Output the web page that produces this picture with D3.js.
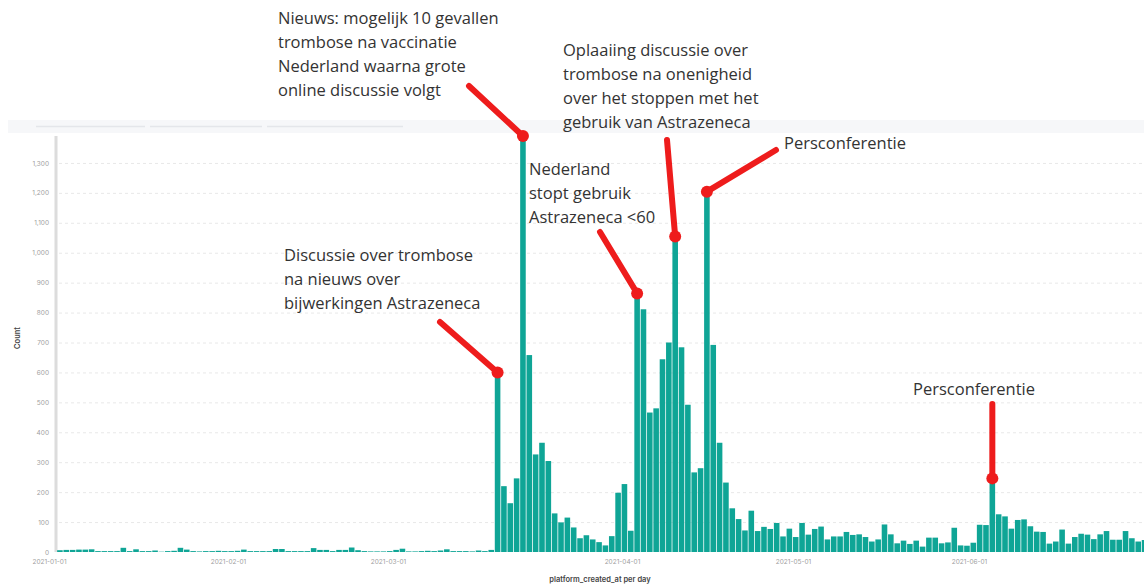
<!DOCTYPE html>
<html>
<head>
<meta charset="utf-8">
<script src="https://cdn.jsdelivr.net/npm/d3@7"></script>
<style>
  html, body { margin: 0; padding: 0; background: #fff; }
  svg { display: block; }
</style>
</head>
<body>
<svg id="chart" width="1144" height="588"></svg>
<script>
// ---------------- DATA ----------------
const startDate = "2021-01-01";
// daily counts from 2021-01-01
const counts = [
  6,7,7,8,8,9,3,3,3,3,            // Jan 1-10
  14,3,9,3,3,5,1,3,4,14,          // Jan 11-20
  8,3,2,3,3,4,3,3,4,8,            // Jan 21-30
  3,3,3,3,10,10,3,3,3,3,          // Jan 31 - Feb 9
  13,7,7,3,7,7,15,6,3,2,          // Feb 10-19
  2,2,3,7,11,2,2,3,4,3,           // Feb 20 - Mar 1
  5,9,3,3,3,2,5,3,7,600,          // Mar 2-11
  220,163,246,1390,658,326,365,304,129,99,   // Mar 12-21
  115,82,46,56,42,33,22,53,198,227,          // Mar 22-31
  71,864,811,466,480,644,700,1054,684,492,   // Apr 1-10
  266,280,1204,692,365,232,146,110,72,138,   // Apr 11-20
  70,84,77,97,52,78,50,97,58,77,             // Apr 21-30
  85,42,52,52,67,57,59,50,35,42,             // May 1-10
  92,59,29,38,27,38,18,48,48,29,             // May 11-20
  32,81,22,21,31,91,90,246,126,119,          // May 21-30
  78,107,109,86,68,67,28,35,75,28,           // May 31 - Jun 9
  50,61,58,43,59,70,41,41,70,46,             // Jun 10-19
  35,40                                      // Jun 20-21
];
const yTicks = [0,100,200,300,400,500,600,700,800,900,1000,1100,1200,1300];
const xTickDates = ["2021-01-01","2021-02-01","2021-03-01","2021-04-01","2021-05-01","2021-06-01"];
const xTickPixels = [49,228,388,622,793,969];   // where the reference prints its date labels
const yTitle = "Count";
const xTitle = "platform_created_at per day";

const annotations = [
  { lines: ["Nieuws: mogelijk 10 gevallen","trombose na vaccinatie","Nederland waarna grote","online discussie volgt"],
    tx: 278, ty: 24, date: "2021-03-15", lx: 469, ly: 86 },
  { lines: ["Oplaaiing discussie over","trombose na onenigheid","over het stoppen met het","gebruik van Astrazeneca"],
    tx: 563, ty: 56, date: "2021-04-08", lx: 667, ly: 140 },
  { lines: ["Persconferentie"],
    tx: 784, ty: 149, date: "2021-04-13", lx: 776, ly: 150 },
  { lines: ["Nederland","stopt gebruik","Astrazeneca <60"],
    tx: 529, ty: 175, date: "2021-04-02", lx: 600, ly: 232 },
  { lines: ["Discussie over trombose","na nieuws over","bijwerkingen Astrazeneca"],
    tx: 284, ty: 261, date: "2021-03-11", lx: 440, ly: 322 },
  { lines: ["Persconferentie"],
    tx: 913, ty: 395, date: "2021-05-28", lx: null, ly: 404 }
];

// ---------------- CHART ----------------
const svg = d3.select("#chart");
const W = 1144, H = 588;
const parse = d3.timeParse("%Y-%m-%d");
const t0 = parse(startDate);
const days = counts.map((c, i) => ({ date: d3.timeDay.offset(t0, i), count: c, i }));

const plot = { left: 57, top: 136, bottom: 552, step: 6.34 };

const x = d3.scaleBand()
  .domain(days.map(d => d.i))
  .range([plot.left, plot.left + counts.length * plot.step])
  .paddingInner(0.12)
  .paddingOuter(0.02);

const y = d3.scaleLinear()
  .domain([0, d3.max(counts)])
  .range([plot.bottom, plot.top]);

const xLabel = d3.scaleTime()
  .domain(xTickDates.map(parse))
  .range(xTickPixels);

// top strip (dashboard remnant)
svg.append("rect").attr("x", 8).attr("y", 120).attr("width", W - 8).attr("height", 13).attr("fill", "#f6f7f9");
[[36,145],[150,262],[267,403]].forEach(([a,b]) => {
  svg.append("line").attr("x1", a).attr("x2", b).attr("y1", 126.5).attr("y2", 126.5)
    .attr("stroke", "#e4e6ea").attr("stroke-width", 1.5);
});

// grid lines
svg.append("g")
  .selectAll("line")
  .data(yTicks.filter(v => v > 0))
  .join("line")
  .attr("x1", plot.left + 2).attr("x2", W)
  .attr("y1", d => y(d) + 0.5).attr("y2", d => y(d) + 0.5)
  .attr("stroke", "#e8e8e8")
  .attr("stroke-dasharray", "3,3");

// y axis
const yAxis = d3.axisLeft(y).tickValues(yTicks).tickSize(0).tickPadding(0)
  .tickFormat(d3.format(","));
const gy = svg.append("g").attr("transform", `translate(${plot.left - 8},0)`).call(yAxis);
gy.select(".domain").remove();
gy.selectAll("text").attr("font-family", "Inter, 'Open Sans', sans-serif")
  .attr("font-size", 6.5).attr("fill", "#a0a0a0");

svg.append("line")
  .attr("x1", plot.left - 1).attr("x2", plot.left - 1)
  .attr("y1", plot.top).attr("y2", plot.bottom)
  .attr("stroke", "#dcdcdc").attr("stroke-width", 3);

// bars
svg.append("g")
  .selectAll("rect")
  .data(days)
  .join("rect")
  .attr("x", d => x(d.i))
  .attr("width", x.bandwidth())
  .attr("y", d => y(d.count))
  .attr("height", d => plot.bottom - y(d.count))
  .attr("fill", "#0fa596");

// x axis labels
const xAxis = d3.axisBottom(xLabel)
  .tickValues(xTickDates.map(parse))
  .tickSize(0).tickPadding(0)
  .tickFormat(d3.timeFormat("%Y-%m-%d"));
const gx = svg.append("g").attr("transform", `translate(0,${plot.bottom + 7})`).call(xAxis);
gx.select(".domain").remove();
gx.selectAll("text").attr("font-family", "Inter, 'Open Sans', sans-serif")
  .attr("font-size", 6.5).attr("fill", "#a0a0a0");

// axis titles
svg.append("text")
  .attr("transform", "translate(20,338) rotate(-90)")
  .attr("text-anchor", "middle")
  .attr("font-family", "Inter, 'Open Sans', sans-serif")
  .attr("font-size", 7.5).attr("font-weight", 600).attr("fill", "#444")
  .text(yTitle);
svg.append("text")
  .attr("x", 600).attr("y", 582)
  .attr("text-anchor", "middle")
  .attr("font-family", "Inter, 'Open Sans', sans-serif")
  .attr("font-size", 7.5).attr("font-weight", 600).attr("fill", "#444")
  .text(xTitle);

// annotations
const ann = svg.append("g");
annotations.forEach(a => {
  const idx = d3.timeDay.count(t0, parse(a.date));
  const px = x(idx) + x.bandwidth() / 2;
  const py = y(counts[idx]);
  const lx = a.lx == null ? px : a.lx;
  ann.append("line")
    .attr("x1", lx).attr("y1", a.ly).attr("x2", px).attr("y2", py)
    .attr("stroke", "#ee1c1c").attr("stroke-width", 6).attr("stroke-linecap", "round");
  ann.append("circle").attr("cx", px).attr("cy", py).attr("r", 6).attr("fill", "#ee1c1c");
  const t = ann.append("text")
    .attr("x", a.tx).attr("y", a.ty)
    .attr("font-family", "'Open Sans', sans-serif")
    .attr("font-size", 16.5).attr("fill", "#333");
  a.lines.forEach((l, k) => {
    t.append("tspan").attr("x", a.tx).attr("y", a.ty + k * 24).text(l);
  });
});
</script>
</body>
</html>
